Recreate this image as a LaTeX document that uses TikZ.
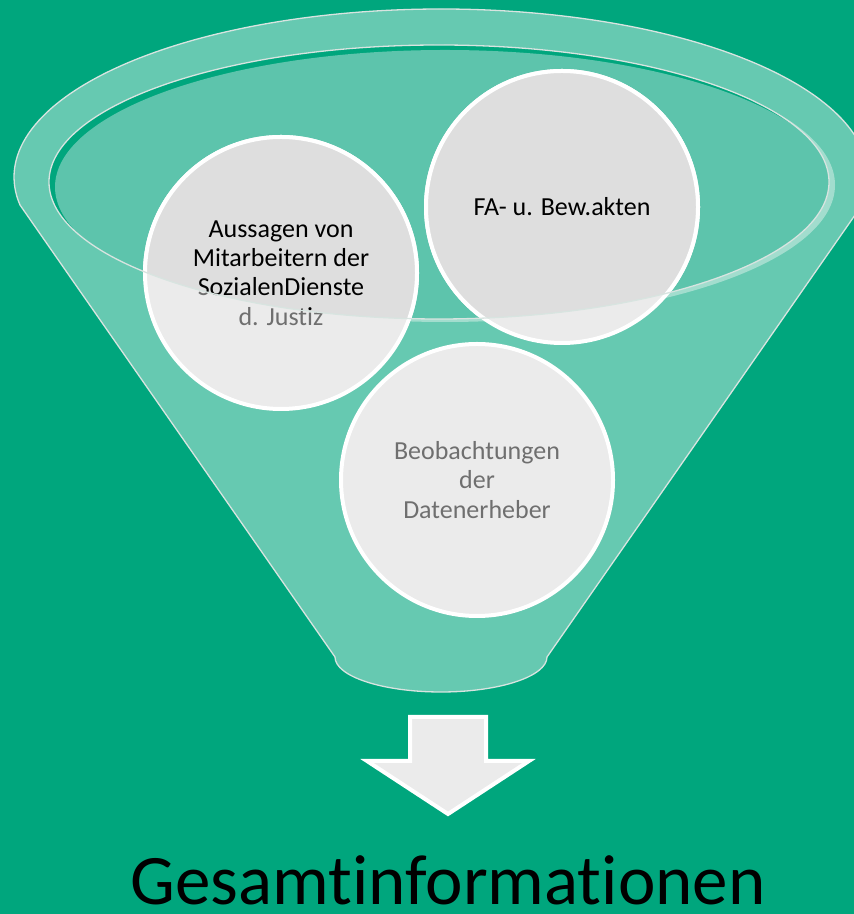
\documentclass[tikz,border=0pt]{standalone}
\usepackage{fontspec}
\setmainfont{Carlito}[Ligatures=NoCommon]
\definecolor{bg}{HTML}{00A67D}
\definecolor{rim}{HTML}{66C9B1}
\definecolor{innerc}{HTML}{5DC4AC}
\definecolor{hilite}{HTML}{A2DDCE}
\definecolor{edge}{HTML}{D8E4E0}
\definecolor{circlt}{HTML}{EBEBEB}
\definecolor{circdk}{HTML}{DEDEDE}
\definecolor{txtgray}{HTML}{6F6F6F}
\begin{document}
\begin{tikzpicture}[x=1bp,y=1bp,
  bubble/.style={circle, minimum size=272bp, inner sep=0pt, draw=white, line width=4bp,
    align=center, font=\fontsize{26bp}{29.3bp}\selectfont},
  edgeline/.style={draw=edge, line width=1.3bp},
  arrowshape/.style={draw=white, fill=circlt, line width=4bp, line join=miter}]
\path[use as bounding box, fill=bg] (0,0) rectangle (854,914);
% funnel silhouette
\draw[edgeline, fill=rim] (441,737) ++(-9.6:427 and 168)
  arc[start angle=-9.6, end angle=189.6, x radius=427, y radius=168]
  -- (335,257) arc[start angle=180, end angle=360, x radius=106, y radius=35] -- cycle;
% highlight on right of opening
\fill[hilite] (445,729) ellipse[x radius=390, y radius=137];
% opening
\fill[bg] (439,732) ellipse[x radius=390, y radius=137];
\begin{scope}
  \clip (439,732) ellipse[x radius=390, y radius=137];
  \fill[innerc] (445,727) ellipse[x radius=390, y radius=137];
\end{scope}
% circles
\node[bubble, fill=circlt, text=txtgray] (A) at (281,641) {Aussagen von\\Mitarbeitern der\\SozialenDienste\\d. Justiz};
\node[bubble, fill=circlt, text=txtgray] (B) at (562,707) {FA- u. Bew.akten};
\node[bubble, fill=circlt, text=txtgray] (C) at (477,434) {Beobachtungen\\der\\Datenerheber};
\begin{scope}
  \clip (439,732) ellipse[x radius=390, y radius=137];
  \node[bubble, fill=circdk, text=black] (Ad) at (281,641) {Aussagen von\\Mitarbeitern der\\SozialenDienste\\d. Justiz};
  \node[bubble, fill=circdk, text=black] (Bd) at (562,707) {FA- u. Bew.akten};
\end{scope}
\draw[edgeline] (439,732) ellipse[x radius=390, y radius=137];
% arrow
\draw[arrowshape] (410,197) -- (486,197) -- (486,153) -- (529,153) -- (448,100) -- (367,153) -- (410,153) -- cycle;
\node[font=\fontsize{71bp}{80bp}\selectfont, anchor=base, inner sep=0pt] (G) at (448,9) {Gesamtinformationen};
\end{tikzpicture}
\end{document}
